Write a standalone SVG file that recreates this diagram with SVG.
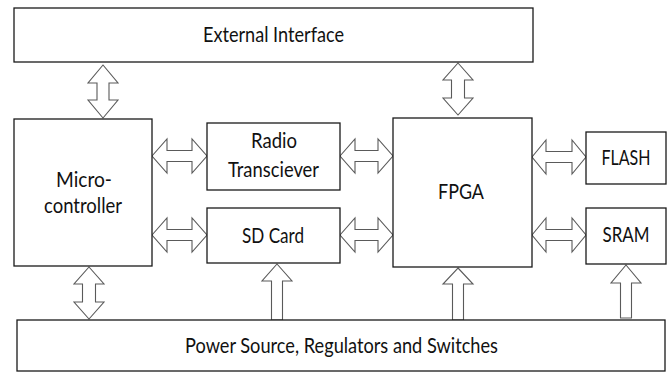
<svg xmlns="http://www.w3.org/2000/svg" width="671" height="373" viewBox="0 0 671 373">
<style>
.box{fill:#fff;stroke:#1a1a1a;stroke-width:1.3}
.arr{fill:#fff;stroke:#5a5a5a;stroke-width:1.1;stroke-linejoin:miter}
.lbl{font-family:Lato,"Liberation Sans",sans-serif;font-size:21px;fill:#111;text-anchor:middle}
</style>
<rect width="671" height="373" fill="#fff"/>
<g id="connectors">
<path class="arr" d="M103,65 L118,83 L109,83 L109,100 L118,100 L103,118 L88,100 L97,100 L97,83 L88,83 Z"/>
<path class="arr" d="M458,63 L473,80 L464.5,80 L464.5,98 L473,98 L458,115 L443,98 L451.5,98 L451.5,80 L443,80 Z"/>
<path class="arr" d="M89,267 L104,284 L95.5,284 L95.5,302 L104,302 L89,319 L74,302 L82.5,302 L82.5,284 L74,284 Z"/>
<path class="arr" d="M152,156 L167,139 L167,150.5 L192,150.5 L192,139 L207,156 L192,173 L192,161.5 L167,161.5 L167,173 Z"/>
<path class="arr" d="M152,235 L167,218 L167,229.5 L192,229.5 L192,218 L207,235 L192,252 L192,240.5 L167,240.5 L167,252 Z"/>
<path class="arr" d="M340,156 L355,139 L355,150.5 L378,150.5 L378,139 L393,156 L378,173 L378,161.5 L355,161.5 L355,173 Z"/>
<path class="arr" d="M340,235 L355,218 L355,229.5 L378,229.5 L378,218 L393,235 L378,252 L378,240.5 L355,240.5 L355,252 Z"/>
<path class="arr" d="M532,157 L546,140 L546,151.5 L572,151.5 L572,140 L586,157 L572,174 L572,162.5 L546,162.5 L546,174 Z"/>
<path class="arr" d="M532,235 L546,218 L546,229.5 L572,229.5 L572,218 L586,235 L572,252 L572,240.5 L546,240.5 L546,252 Z"/>
<path class="arr" d="M277,264 L292,281 L282.5,281 L282.5,320 L271.5,320 L271.5,281 L262,281 Z"/>
<path class="arr" d="M458,268 L473,284 L463.5,284 L463.5,320 L452.5,320 L452.5,284 L443,284 Z"/>
<path class="arr" d="M626,265 L641,283 L631.5,283 L631.5,318 L620.5,318 L620.5,283 L611,283 Z"/>
</g>
<g id="external"><rect class="box" x="14" y="8" width="519" height="54"/><text class="lbl" x="273.5" y="42" textLength="141" lengthAdjust="spacingAndGlyphs">External Interface</text></g>
<g id="micro"><rect class="box" x="14" y="119" width="138" height="147"/><text class="lbl" x="84" y="187" textLength="56" lengthAdjust="spacingAndGlyphs">Micro-</text><text class="lbl" x="83" y="213" textLength="78" lengthAdjust="spacingAndGlyphs">controller</text></g>
<g id="radio"><rect class="box" x="207" y="123" width="133" height="67"/><text class="lbl" x="274" y="148" textLength="46" lengthAdjust="spacingAndGlyphs">Radio</text><text class="lbl" x="273.5" y="177" textLength="91" lengthAdjust="spacingAndGlyphs">Transciever</text></g>
<g id="sdcard"><rect class="box" x="207" y="208" width="133" height="55"/><text class="lbl" x="273" y="243" textLength="62" lengthAdjust="spacingAndGlyphs">SD Card</text></g>
<g id="fpga"><rect class="box" x="393" y="118" width="139" height="149"/><text class="lbl" x="461" y="199" textLength="46" lengthAdjust="spacingAndGlyphs">FPGA</text></g>
<g id="flash"><rect class="box" x="586" y="132" width="80" height="52"/><text class="lbl" x="626" y="165" textLength="49" lengthAdjust="spacingAndGlyphs">FLASH</text></g>
<g id="sram"><rect class="box" x="586" y="208" width="80" height="56"/><text class="lbl" x="626" y="242" textLength="47" lengthAdjust="spacingAndGlyphs">SRAM</text></g>
<g id="power"><rect class="box" x="17" y="320" width="648" height="51"/><text class="lbl" x="341.5" y="353" textLength="313" lengthAdjust="spacingAndGlyphs">Power Source, Regulators and Switches</text></g>
</svg>
